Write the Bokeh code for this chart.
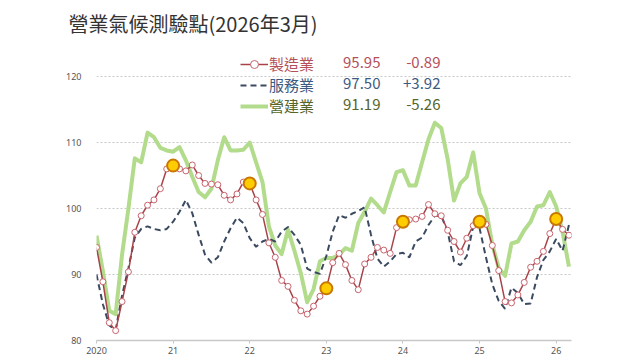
import pandas as pd
from bokeh.plotting import figure
from bokeh.models import Range1d, FixedTicker, Legend, LegendItem, Label
from bokeh.embed import file_html
from bokeh.resources import INLINE

title_text = "營業氣候測驗點(2026年3月)"
start_month = "2020-01"
end_month = "2026-03"
series_names = ["製造業", "服務業", "營建業"]

manufacturing = [
    94.1, 88.9, 82.7, 81.5, 85.9, 90.4, 96.4, 98.9, 100.5, 101.3, 103.0, 106.0,
    106.5, 106.0, 105.7, 106.6, 105.0, 103.8, 103.7, 103.6, 102.0, 101.3, 102.2, 104.0,
    103.8, 101.3, 99.1, 94.8, 92.6, 89.1, 88.2, 86.1, 84.5, 84.0, 85.2, 86.7,
    87.9, 91.8, 93.2, 91.5, 89.1, 87.7, 91.6, 92.6, 94.1, 93.7, 93.2, 97.1,
    98.0, 98.3, 98.4, 98.8, 100.6, 99.2, 98.9, 96.7, 95.0, 93.4, 95.5, 97.4,
    98.0, 97.6, 94.4, 90.6, 85.9, 85.7, 86.9, 88.8, 91.1, 92.0, 93.5, 96.2,
    98.4, 96.84, 95.95,
]
services = [
    90.0, 85.5, 82.3, 81.6, 86.8, 91.0, 95.6, 96.9, 97.3, 96.9, 96.7, 96.9,
    98.0, 99.5, 101.3, 99.3, 96.0, 93.0, 91.8, 92.6, 95.0, 97.0, 98.6, 97.8,
    95.5, 94.2, 95.0, 95.4, 95.0, 96.5, 97.2, 96.0, 94.5, 90.9, 90.4, 90.1,
    92.8, 96.5, 99.0, 98.6, 99.2, 99.6, 100.2, 96.0, 92.4, 91.2, 92.0, 93.1,
    93.3, 92.6, 95.0, 95.6, 97.5, 98.9, 98.9, 96.5, 92.0, 91.4, 92.8, 97.2,
    97.0, 92.6, 88.5, 86.0, 84.8, 88.0, 87.2, 85.5, 85.6, 89.6, 92.2, 93.5,
    95.4, 93.58, 97.50,
]
construction = [
    95.9, 90.5, 84.5, 84.0, 93.0, 100.0, 107.6, 107.0, 111.5, 110.8, 109.2, 108.8,
    108.6, 109.3, 107.3, 104.8, 102.5, 101.7, 103.0, 107.3, 110.8, 108.8, 108.8, 108.9,
    110.0, 107.0, 104.0, 97.3, 94.4, 93.1, 96.8, 93.6, 90.2, 85.8, 87.8, 92.0,
    92.5, 92.5, 93.0, 94.0, 93.6, 97.8, 99.5, 101.5, 100.5, 99.4, 102.5, 105.5,
    105.8, 103.5, 103.5, 107.0, 110.5, 113.0, 112.2, 107.5, 101.2, 103.8, 104.8, 108.5,
    102.3, 100.0, 94.5, 91.0, 89.8, 94.7, 95.0, 96.7, 98.0, 100.3, 100.5, 102.5,
    100.3, 96.45, 91.19,
]
highlight_months = ["2021-01", "2022-01", "2023-01", "2024-01", "2025-01", "2026-01"]
year_ticks = [2020, 2021, 2022, 2023, 2024, 2025, 2026]
year_tick_labels = ["2020", "21", "22", "23", "24", "25", "26"]
y_ticks = [80, 90, 100, 110, 120]

months = pd.date_range(start_month, end_month, freq="MS")
xs = [d.year + (d.month - 1) / 12 for d in months]
hl = [pd.Timestamp(m) for m in highlight_months]
hl_x = [d.year + (d.month - 1) / 12 for d in hl]
hl_y = [manufacturing[list(months).index(d)] for d in hl]

FONT_CJK = "Noto Sans CJK TC"
MAN_LINE = "#a8434a"
MAN_TEXT = "#b4505a"
SRV_LINE = "#3b4a60"
SRV_TEXT = "#3d5a80"
CON_LINE = "#b2dc8c"
CON_TEXT = "#56652a"

p = figure(width=640, height=360, output_backend="svg", toolbar_location=None,
           x_range=Range1d(2020, 2026.2), y_range=Range1d(80, 125),
           min_border_left=96, min_border_right=69, min_border_top=43,
           min_border_bottom=20)
p.outline_line_color = None
p.background_fill_color = "white"
p.border_fill_color = "white"

p.title.text = title_text
p.title.text_font = FONT_CJK
p.title.text_font_size = "20px"
p.title.text_font_style = "normal"
p.title.text_color = "#333333"
p.title.align = "left"
p.title.offset = -28
p.title.standoff = 12

p.xaxis.ticker = FixedTicker(ticks=year_ticks)
p.xaxis.major_label_overrides = {t: l for t, l in zip(year_ticks, year_tick_labels)}
p.xaxis.axis_line_color = "#c8c8c8"
p.xaxis.axis_line_width = 1.5
p.xaxis.major_tick_line_color = "#c8c8c8"
p.xaxis.major_tick_out = 3
p.xaxis.major_tick_in = 0
p.xaxis.minor_tick_line_color = None
p.xaxis.major_label_standoff = 3
p.yaxis.ticker = FixedTicker(ticks=y_ticks)
p.yaxis.axis_line_color = None
p.yaxis.major_tick_line_color = None
p.yaxis.minor_tick_line_color = None
p.yaxis.major_label_standoff = 9
for ax in (p.xaxis, p.yaxis):
    ax.major_label_text_font = "Noto Sans"
    ax.major_label_text_font_size = "9px"
    ax.major_label_text_color = "#555555"
p.xgrid.grid_line_color = None
p.ygrid.ticker = FixedTicker(ticks=[90, 100, 110, 120])
p.ygrid.grid_line_color = "#c8c8c8"
p.ygrid.grid_line_dash = "2 2"
p.ygrid.grid_line_width = 1

r_con = p.line(xs, construction, line_color=CON_LINE, line_width=4, line_join="round")
r_srv = p.line(xs, services, line_color=SRV_LINE, line_width=2, line_dash="6 4")
r_man = p.line(xs, manufacturing, line_color=MAN_LINE, line_width=1.5)
r_mk = p.scatter(xs, manufacturing, size=6, fill_color="white", line_color="#c8646e", line_width=1)
p.scatter(hl_x, hl_y, size=12, fill_color="#ffcc00", line_color="#c87800", line_width=2)

# legend rows: (renderers, name, colour, data, legend y, label y) in frame screen units
legend_rows = [
    ([r_man, r_mk], series_names[0], MAN_TEXT, manufacturing, 266, 278.5),
    ([r_srv], series_names[1], SRV_TEXT, services, 245, 257.5),
    ([r_con], series_names[2], CON_TEXT, construction, 224, 236.5),
]
for rends, name, color, data, ly, ty in legend_rows:
    lg = Legend(items=[LegendItem(label=name, renderers=rends)], location=(144, ly),
                padding=0, margin=0, spacing=0, glyph_width=28, glyph_height=20,
                label_height=20, label_standoff=1, label_text_font=FONT_CJK,
                label_text_font_size="15px", label_text_color=color,
                label_text_baseline="middle",
                background_fill_alpha=0, border_line_alpha=0)
    p.add_layout(lg)
    p.add_layout(Label(x=284, y=ty, x_units="screen", y_units="screen",
                       text=f"{data[-1]:.2f}", text_align="right", text_baseline="middle",
                       text_font=FONT_CJK, text_font_size="15px", text_color=color))
    p.add_layout(Label(x=344, y=ty, x_units="screen", y_units="screen",
                       text=f"{data[-1] - data[-2]:+.2f}", text_align="right",
                       text_baseline="middle",
                       text_font=FONT_CJK, text_font_size="15px", text_color=color))

open("out.html", "w").write(file_html(p, INLINE))
